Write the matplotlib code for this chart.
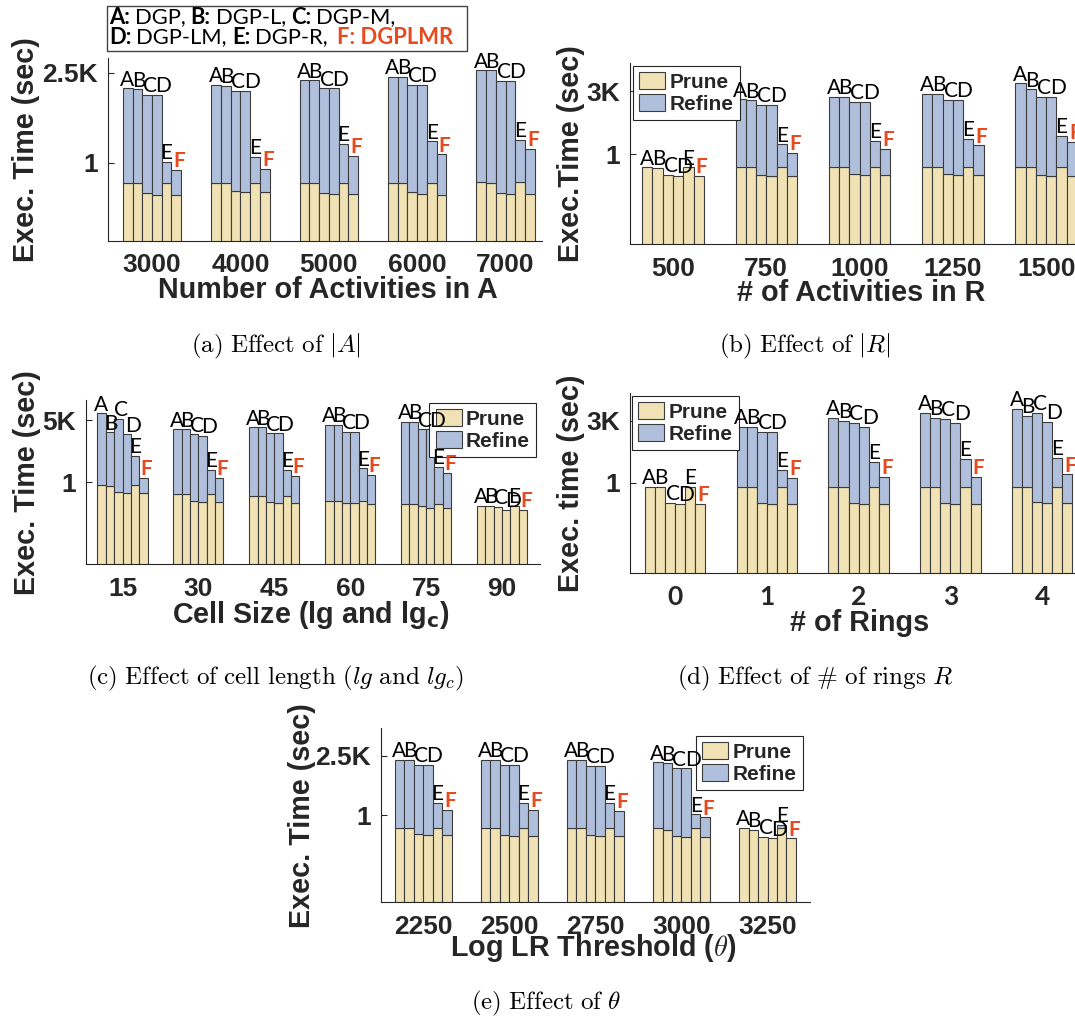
import matplotlib.pyplot as plt
from matplotlib.patches import Patch, Rectangle
from matplotlib.ticker import NullLocator
from matplotlib.transforms import Affine2D

plt.rcParams['font.family'] = ['Liberation Sans', 'DejaVu Sans']
plt.rcParams['font.weight'] = 'bold'
plt.rcParams['axes.labelweight'] = 'bold'

W, H = 1075, 1019
PRUNE_C = '#F0E2B4'
REFINE_C = '#B0C0DC'
EDGE_C = '#3c3c3c'
TEXT_C = '#262626'
RED = '#E64A1E'

methods = ['A', 'B', 'C', 'D', 'E', 'F']
# small sideways nudge (points) so neighbouring letters don't collide
nudge = [-0.3, 0.7, 2.0, 4.6, 0, 2.2]

# (a) number of activities in A
a_groups = ['3000', '4000', '5000', '6000', '7000']
a_prune = [[0.17, 0.17, 0.074, 0.062, 0.17, 0.062],
           [0.17, 0.17, 0.085, 0.078, 0.17, 0.078],
           [0.17, 0.17, 0.074, 0.068, 0.17, 0.068],
           [0.17, 0.17, 0.076, 0.064, 0.17, 0.062],
           [0.186, 0.176, 0.074, 0.064, 0.186, 0.064]]
a_total = [[640, 587, 369, 369, 1.09, 0.544],
           [856, 807, 508, 508, 1.64, 0.577],
           [1283, 1283, 640, 640, 5.07, 1.79],
           [1715, 1715, 856, 856, 6.39, 2.06],
           [3063, 3063, 1211, 1211, 7.38, 3.28]]

# (b) number of activities in R
b_groups = ['500', '750', '1000', '1250', '1500']
b_prune = [[0.193, 0.177, 0.073, 0.065, 0.193, 0.065],
           [0.193, 0.193, 0.070, 0.065, 0.193, 0.065],
           [0.193, 0.193, 0.080, 0.070, 0.193, 0.070],
           [0.193, 0.193, 0.080, 0.070, 0.193, 0.070],
           [0.193, 0.193, 0.070, 0.065, 0.193, 0.065]]
b_total = [[0.193, 0.177, 0.073, 0.065, 0.193, 0.065],
           [1052, 927, 536, 536, 3.54, 1.23],
           [1473, 1473, 783, 783, 5.40, 2.05],
           [2065, 2065, 967, 967, 6.95, 3.12],
           [7960, 3727, 1473, 1473, 10.6, 4.97]]

# (c) cell size
c_groups = ['15', '30', '45', '60', '75', '90']
c_prune = [[0.695, 0.634, 0.279, 0.244, 0.695, 0.244],
           [0.194, 0.194, 0.0855, 0.0745, 0.194, 0.0745],
           [0.148, 0.148, 0.0745, 0.065, 0.148, 0.065],
           [0.0855, 0.0855, 0.065, 0.0594, 0.0855, 0.0567],
           [0.0518, 0.0518, 0.0432, 0.030, 0.0518, 0.030],
           [0.0432, 0.0432, 0.0344, 0.025, 0.0432, 0.025]]
c_total = [[12450, 928, 5738, 706, 38.3, 1.89],
           [1397, 1397, 706, 562, 5.40, 1.89],
           [1837, 1837, 809, 809, 5.40, 2.38],
           [2527, 2527, 1016, 1016, 6.77, 2.72],
           [3984, 3984, 1397, 1397, 8.50, 3.75],
           [0.0432, 0.0432, 0.0344, 0.025, 0.0432, 0.025]]

# (d) number of rings
d_groups = ['0', '1', '2', '3', '4']
d_prune = [[0.598, 0.598, 0.0734, 0.0646, 0.598, 0.0646],
           [0.598, 0.598, 0.0734, 0.0646, 0.598, 0.0646],
           [0.598, 0.598, 0.0734, 0.0646, 0.598, 0.0646],
           [0.598, 0.598, 0.0734, 0.0646, 0.598, 0.0646],
           [0.598, 0.598, 0.0835, 0.0734, 0.598, 0.0734]]
d_total = [[0.598, 0.598, 0.0734, 0.0646, 0.598, 0.0646],
           [1449, 1449, 762, 762, 5.31, 1.90],
           [4603, 3000, 2223, 1330, 14.8, 2.16],
           [8380, 4603, 3716, 2223, 21.8, 2.16],
           [13430, 5953, 8380, 2754, 25.9, 3.04]]

# (e) log LR threshold
e_groups = ['2250', '2500', '2750', '3000', '3250']
e_prune = [[0.190, 0.190, 0.0828, 0.0726, 0.190, 0.0726],
           [0.190, 0.190, 0.0726, 0.0665, 0.190, 0.0665],
           [0.190, 0.190, 0.0726, 0.0665, 0.190, 0.0665],
           [0.190, 0.146, 0.0665, 0.061, 0.190, 0.061],
           [0.190, 0.146, 0.061, 0.049, 0.190, 0.049]]
e_total = [[1416, 1416, 735, 735, 5.27, 2.01],
           [1416, 1416, 735, 735, 5.27, 2.01],
           [1416, 1416, 645, 645, 5.27, 1.77],
           [1043, 914, 475, 475, 1.14, 0.769],
           [0.190, 0.146, 0.061, 0.049, 0.282, 0.049]]

fig = plt.figure(figsize=(W / 100, H / 100), dpi=100)
# pixel coordinates measured from the top-left corner
px = Affine2D().scale(1 / W, -1 / H).translate(0, 1) + fig.transFigure

BW = 0.11


def panel(box, c0, step, groups, prune, total, ylim, yticks, ylabels,
          xlabel, xlabel_xy, ylabel, ylabel_x, tick_font=None, xlabel_math=None):
    l, t, r, b = box
    ax = fig.add_axes([l / W, 1 - b / H, (r - l) / W, (b - t) / H])
    ax.set_yscale('log')
    for g in range(len(groups)):
        for k in range(6):
            x = g + (k - 2.5) * BW
            p, tot = prune[g][k], total[g][k]
            ax.bar(x, p, width=BW, bottom=1e-9, color=PRUNE_C,
                   edgecolor=EDGE_C, linewidth=0.8)
            if tot > p:
                ax.bar(x, tot - p, width=BW, bottom=p, color=REFINE_C,
                       edgecolor=EDGE_C, linewidth=0.8)
            red = methods[k] == 'F'
            ax.annotate(methods[k], (x, max(p, tot)), xytext=(nudge[k], 2),
                        textcoords='offset points', ha='center', va='baseline',
                        fontsize=15, family='Lato', zorder=6,
                        fontweight='bold' if red else 'normal',
                        color=RED if red else 'black')
    ax.set_xlim((l - c0) / step, (r - c0) / step)
    ax.set_ylim(*ylim)
    ax.set_yticks(yticks, ylabels)
    ax.yaxis.set_minor_locator(NullLocator())
    ax.set_xticks(range(len(groups)), groups)
    ax.tick_params(axis='y', direction='in', length=4, width=0.8, pad=7,
                   labelsize=19, colors=TEXT_C)
    ax.tick_params(axis='x', length=0, pad=9, labelsize=19, colors=TEXT_C)
    if tick_font:
        for lab in ax.get_xticklabels():
            lab.set_family(tick_font)
    for side in ['top', 'right']:
        ax.spines[side].set_visible(False)
    for side in ['left', 'bottom']:
        ax.spines[side].set_color(TEXT_C)
        ax.spines[side].set_linewidth(0.8)

    ax.set_xlabel(xlabel, fontsize=20.7, color=TEXT_C, va='center',
                  math_fontfamily=xlabel_math or 'dejavusans')
    ax.xaxis.set_label_coords(*xlabel_xy, transform=px)
    ax.set_ylabel(ylabel, fontsize=20.7, color=TEXT_C, va='center')
    ax.yaxis.set_label_coords(ylabel_x, (t + b) / 2, transform=px)
    return ax


def add_legend(ax, x, y, loc):
    handles = [Patch(facecolor=PRUNE_C, edgecolor=EDGE_C, linewidth=0.8),
               Patch(facecolor=REFINE_C, edgecolor=EDGE_C, linewidth=0.8)]
    leg = ax.legend(handles, ['Prune', 'Refine'], loc=loc,
                    bbox_to_anchor=(x / W, 1 - y / H),
                    bbox_transform=fig.transFigure, fancybox=False,
                    framealpha=1, edgecolor=TEXT_C, borderaxespad=0,
                    borderpad=0.3, labelspacing=0.12, handlelength=1.25,
                    handleheight=0.85, handletextpad=0.2,
                    prop=dict(family='Liberation Sans', weight='bold', size=15))
    leg.get_frame().set_linewidth(0.8)
    leg.set_zorder(5)
    for txt in leg.get_texts():
        txt.set_color(TEXT_C)


ax_a = panel((107.8, 58.3, 541.6, 240.7), 152, 88.4, a_groups, a_prune, a_total,
             (1.135e-3, 8690), [1, 2500], ['1', '2.5K'],
             'Number of Activities in A', (328, 290),
             'Exec. Time (sec)', 26)

ax_b = panel((629.5, 63.3, 1110, 244), 673, 93.3, b_groups, b_prune, b_total,
             (1.18e-5, 1.0e5), [1, 3000], ['1', '3K'],
             '# of Activities in R', (861, 293),
             'Exec.Time (sec)', 571)
add_legend(ax_b, 633, 66, 'upper left')

ax_c = panel((85.7, 400, 539.6, 564.3), 122.5, 75.9, c_groups, c_prune, c_total,
             (1.42e-5, 7.7e4), [1, 5000], ['1', '5K'],
             r'Cell Size (lg and lg$_{\mathbf{c}}$)', (311, 615),
             'Exec. Time (sec)', 27)
add_legend(ax_c, 536, 403, 'upper right')

ax_d = panel((629.5, 393.3, 1110, 572.7), 675, 91.8, d_groups, d_prune, d_total,
             (9.5e-6, 1.05e5), [1, 3000], ['1', '3K'],
             '# of Rings', (860, 623),
             'Exec. time (sec)', 571, tick_font='Lato')
add_legend(ax_d, 632, 396, 'upper left')

ax_e = panel((380.9, 728.3, 810, 902.3), 423.3, 86.05, e_groups, e_prune, e_total,
             (1.11e-5, 9.0e4), [1, 2500], ['1', '2.5K'],
             r'Log LR Threshold ($\theta$)', (594, 948),
             'Exec. Time (sec)', 302, xlabel_math='cm')
add_legend(ax_e, 696, 736, 'upper left')

# method key above panel (a)
fig.add_artist(Rectangle((107, 6), 360, 44.7, transform=px, fill=False,
                         edgecolor='#444444', linewidth=1))


def key_line(x, y, parts):
    prev = None
    for s, bold, color, gap in parts:
        kw = dict(fontsize=15.8, family='Lato', color=color,
                  fontweight='bold' if bold else 'normal',
                  ha='left', annotation_clip=False)
        if prev is None:
            prev = ax_a.annotate(s, (x, y), xycoords=px, va='baseline', **kw)
        else:
            prev = ax_a.annotate(s, (1, 0), xycoords=prev, xytext=(gap, 0),
                                 textcoords='offset points', va='bottom', **kw)


key_line(109, 23.5, [('A:', True, 'black', 0), ('DGP,', False, 'black', 3.6),
                     ('B:', True, 'black', 3.6), ('DGP-L,', False, 'black', 3.6),
                     ('C:', True, 'black', 3.6), ('DGP-M,', False, 'black', 3.6)])
key_line(109, 43.5, [('D:', True, 'black', 0), ('DGP-LM,', False, 'black', 3.6),
                     ('E:', True, 'black', 3.6), ('DGP-R,', False, 'black', 3.6),
                     ('F: DGPLMR', True, RED, 6.5)])

# sub-figure captions
captions = [(r'$\mathrm{(a)\ Effect\ of\ }|A|$', 276, 346),
            (r'$\mathrm{(b)\ Effect\ of\ }|R|$', 805, 346),
            (r'$\mathrm{(c)\ Effect\ of\ cell\ length\ (}lg\mathrm{\ and\ }lg_c\mathrm{)}$', 276, 678),
            (r'$\mathrm{(d)\ Effect\ of\ \#\ of\ rings\ }R$', 815, 678),
            (r'$\mathrm{(e)\ Effect\ of\ }\theta$', 546, 1003)]
for s, x, y in captions:
    fig.text(x, y, s, transform=px, ha='center', va='center', fontsize=18,
             math_fontfamily='cm', fontweight='normal', color='black')

fig.savefig('out.png', dpi=100)
